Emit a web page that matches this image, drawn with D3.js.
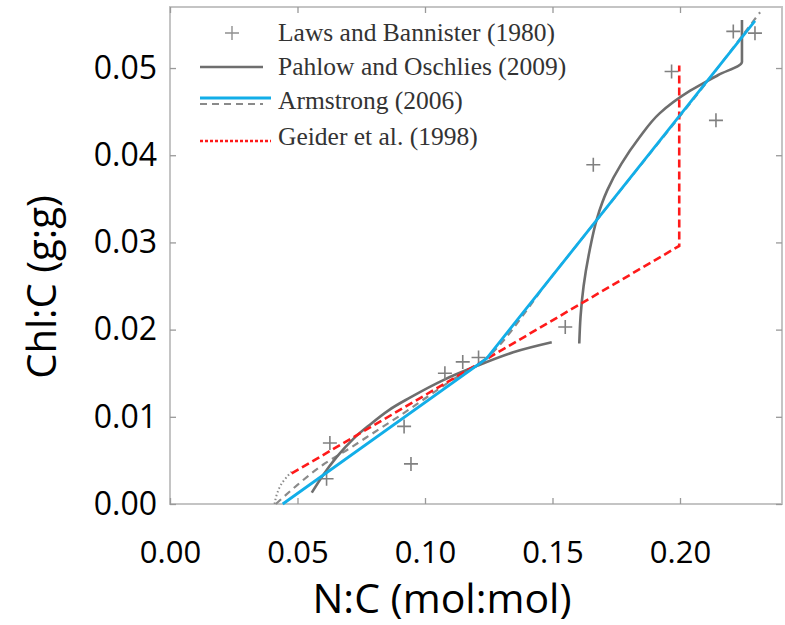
<!DOCTYPE html>
<html>
<head>
<meta charset="utf-8">
<script src="https://cdn.jsdelivr.net/npm/d3@7"></script>
<style>
  html, body { margin: 0; padding: 0; background: #fff; }
  svg { display: block; }
</style>
</head>
<body>
<svg id="chart" width="785" height="625"></svg>
<script>
// ---------- data ----------
const xTicks = [0.00, 0.05, 0.10, 0.15, 0.20];
const yTicks = [0.00, 0.01, 0.02, 0.03, 0.04, 0.05];
const xTitle = "N:C (mol:mol)";
const yTitle = "Chl:C (g:g)";
const legendLabels = ["Laws and Bannister (1980)", "Pahlow and Oschlies (2009)", "Armstrong (2006)", "Geider et al. (1998)"];

// Laws and Bannister (1980) observations [N:C, Chl:C]
const lawsX = [0.0614, 0.0627, 0.0918, 0.0945, 0.1078, 0.1148, 0.1210, 0.1550, 0.1660, 0.1967, 0.2141, 0.2209, 0.2294];
const lawsY = [0.0029, 0.0070, 0.0089, 0.0046, 0.0150, 0.0163, 0.0168, 0.0203, 0.0389, 0.0496, 0.0440, 0.0542, 0.0540];

// Pahlow and Oschlies (2009), two branches
const pahlowLowX = [0.0556, 0.0600, 0.0654, 0.0720, 0.0784, 0.0860, 0.0941, 0.1078, 0.1200, 0.1346, 0.1497];
const pahlowLowY = [0.0013, 0.0033, 0.0054, 0.0075, 0.0091, 0.0108, 0.0122, 0.0143, 0.0158, 0.0174, 0.01855];
const pahlowHighX = [0.1605, 0.1610, 0.1622, 0.1645, 0.1675, 0.1715, 0.1770, 0.1840, 0.1920, 0.2040, 0.2150, 0.2243, 0.2243];
const pahlowHighY = [0.0184, 0.0215, 0.0250, 0.0290, 0.0328, 0.0360, 0.0390, 0.0420, 0.0448, 0.0474, 0.0492, 0.0507, 0.0555];

// Armstrong (2006): blue solid and grey dashed
const armBlueX = [0.0442, 0.1242, 0.2294];
const armBlueY = [0.0000, 0.0167, 0.0554];
const armDashX = [0.0415, 0.0500, 0.0600, 0.0700, 0.0800, 0.0900, 0.1000, 0.1100, 0.1240, 0.1500, 0.1800, 0.2100, 0.2314];
const armDashY = [0.0000, 0.0022, 0.0045, 0.0063, 0.0082, 0.0101, 0.0121, 0.0141, 0.0167, 0.0262, 0.0372, 0.0482, 0.0564];

// grey dotted tail at low N:C
const dotTailX = [0.0410, 0.0420, 0.0435, 0.0455, 0.0477];
const dotTailY = [0.0000, 0.0012, 0.0022, 0.0030, 0.0037];

// Geider et al. (1998)
const geiderX = [0.0477, 0.1997, 0.1997];
const geiderY = [0.0035, 0.0296, 0.0503];

// ---------- layout ----------
const svg = d3.select("#chart");
const x = d3.scaleLinear().domain([0, 0.24]).range([170, 782]);
const y = d3.scaleLinear().domain([0, 0.057]).range([504, 7]);

const zip = (xs, ys) => xs.map((v, i) => [v, ys[i]]);
const line = d3.line().x(d => x(d[0])).y(d => y(d[1]));
const curve = d3.line().x(d => x(d[0])).y(d => y(d[1])).curve(d3.curveMonotoneX);
const curveY = d3.line().x(d => x(d[0])).y(d => y(d[1])).curve(d3.curveMonotoneY);

const BLUE = "#12aee8";
const RED = "#ff1a1a";
const GREY = "#6e6e6e";
const FRAME = "#c4c4c4";

// frame
svg.append("rect")
  .attr("x", x(0)).attr("y", y(0.057))
  .attr("width", x(0.24) - x(0)).attr("height", y(0) - y(0.057))
  .attr("fill", "none").attr("stroke", FRAME).attr("stroke-width", 2);

// axes with inward ticks
const tickStyle = g => {
  g.select(".domain").remove();
  g.selectAll(".tick line").attr("stroke", "#999").attr("stroke-width", 1.3);
};
const gB = svg.append("g").attr("transform", `translate(0,${y(0)})`)
  .call(d3.axisBottom(x).tickValues(xTicks).tickFormat(d3.format(".2f")).tickSizeInner(-6).tickPadding(37));
gB.call(tickStyle);
gB.selectAll(".tick text").attr("font-family", "Open Sans, sans-serif").attr("font-size", 31).attr("fill", "#000");

const gT = svg.append("g").attr("transform", `translate(0,${y(0.057)})`)
  .call(d3.axisTop(x).tickValues(xTicks).tickFormat("").tickSizeInner(-6));
gT.call(tickStyle);

const gL = svg.append("g").attr("transform", `translate(${x(0)},0)`)
  .call(d3.axisLeft(y).tickValues(yTicks).tickFormat(d3.format(".2f")).tickSizeInner(-6).tickPadding(13));
gL.call(tickStyle);
gL.selectAll(".tick text").attr("font-family", "Open Sans, sans-serif").attr("font-size", 32).attr("fill", "#000");

const gR = svg.append("g").attr("transform", `translate(${x(0.24)},0)`)
  .call(d3.axisRight(y).tickValues(yTicks).tickFormat("").tickSizeInner(-6));
gR.call(tickStyle);

// axis titles
svg.append("text").attr("x", 442).attr("y", 613)
  .attr("text-anchor", "middle").attr("font-family", "Open Sans, sans-serif")
  .attr("font-size", 41).attr("fill", "#000").text(xTitle);
svg.append("text").attr("transform", "translate(56,287) rotate(-90)")
  .attr("text-anchor", "middle").attr("font-family", "Open Sans, sans-serif")
  .attr("font-size", 40).attr("fill", "#000").text(yTitle);

// plot marks
const plot = svg.append("g");

// grey dotted tail
plot.append("path").attr("d", curveY(zip(dotTailX, dotTailY)))
  .attr("fill", "none").attr("stroke", "#8a8a8a").attr("stroke-width", 2).attr("stroke-dasharray", "1.5,2.5");

// Armstrong grey dashed
plot.append("path").attr("d", curve(zip(armDashX, armDashY)))
  .attr("fill", "none").attr("stroke", "#8a8a8a").attr("stroke-width", 2.2).attr("stroke-dasharray", "7,5");

// Pahlow
plot.append("path").attr("d", curve(zip(pahlowLowX, pahlowLowY)))
  .attr("fill", "none").attr("stroke", GREY).attr("stroke-width", 2.6);
plot.append("path").attr("d", curveY(zip(pahlowHighX, pahlowHighY)))
  .attr("fill", "none").attr("stroke", GREY).attr("stroke-width", 2.6);

// Laws crosses
const cs = 7;
plot.selectAll(".cross").data(zip(lawsX, lawsY)).join("path")
  .attr("class", "cross")
  .attr("d", d => `M${x(d[0]) - cs},${y(d[1])}H${x(d[0]) + cs}M${x(d[0])},${y(d[1]) - cs}V${y(d[1]) + cs}`)
  .attr("stroke", "#808080").attr("stroke-width", 1.6).attr("fill", "none");

// Geider red dashed
plot.append("path").attr("d", line(zip(geiderX, geiderY)))
  .attr("fill", "none").attr("stroke", RED).attr("stroke-width", 2.6).attr("stroke-dasharray", "8,4");

// Armstrong blue
plot.append("path").attr("d", line(zip(armBlueX, armBlueY)))
  .attr("fill", "none").attr("stroke", BLUE).attr("stroke-width", 2.8);

// legend
const lg = svg.append("g");
const rowY = [33, 67, 101, 137];
lg.selectAll("text").data(legendLabels).join("text")
  .attr("x", 278).attr("y", (d, i) => rowY[i] + 8)
  .attr("font-family", "Liberation Serif, Times New Roman, serif")
  .attr("font-size", 25.5).attr("fill", "#333").text(d => d);

// legend symbols
lg.append("path")
  .attr("d", `M${232 - cs},${rowY[0]}H${232 + cs}M232,${rowY[0] - cs}V${rowY[0] + cs}`)
  .attr("stroke", "#909090").attr("stroke-width", 1.4);
lg.append("line").attr("x1", 200).attr("x2", 263).attr("y1", rowY[1]).attr("y2", rowY[1])
  .attr("stroke", GREY).attr("stroke-width", 2.4);
lg.append("line").attr("x1", 200).attr("x2", 271).attr("y1", rowY[2] - 3).attr("y2", rowY[2] - 3)
  .attr("stroke", BLUE).attr("stroke-width", 2.8);
lg.append("line").attr("x1", 200).attr("x2", 263).attr("y1", rowY[2] + 3).attr("y2", rowY[2] + 3)
  .attr("stroke", "#8a8a8a").attr("stroke-width", 2).attr("stroke-dasharray", "7,5");
lg.append("line").attr("x1", 200).attr("x2", 271).attr("y1", rowY[3] + 4).attr("y2", rowY[3] + 4)
  .attr("stroke", RED).attr("stroke-width", 2.6).attr("stroke-dasharray", "3,2");
</script>
</body>
</html>
